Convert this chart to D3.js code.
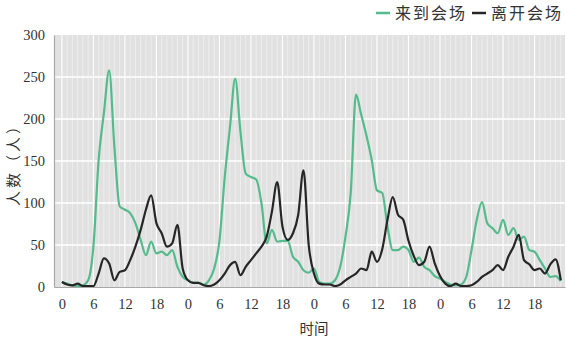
<!DOCTYPE html>
<html>
<head>
<meta charset="utf-8">
<script src="https://cdn.jsdelivr.net/npm/d3@7"></script>
<style>
  body { margin: 0; background: #fff; }
  svg text { font-family: "Liberation Serif", serif; }
</style>
</head>
<body>
<div id="grafica"></div>
<script>
// datos: una medida por hora, 4 dias
const arrive = [
  6, 4, 2, 1, 2, 8, 48, 151, 207, 258, 167, 96, 92, 88, 76, 56, 38, 54, 40, 42, 38, 44, 24, 12,
  8, 5, 5, 3, 8, 22, 55, 130, 190, 248, 185, 135, 131, 128, 100, 52, 68, 54, 55, 55, 36, 30, 20, 17,
  22, 6, 4, 4, 8, 24, 60, 112, 229, 205, 180, 151, 115, 112, 72, 44, 44, 48, 44, 30, 35, 24, 20, 13,
  10, 6, 3, 2, 3, 12, 44, 80, 101, 76, 70, 64, 80, 62, 70, 56, 60, 44, 42, 32, 22, 12, 13, 7
]
const leave = [
  6, 3, 2, 4, 1, 1, 1, 16, 34, 28, 8, 18, 20, 32, 48, 68, 92, 109, 76, 64, 48, 52, 74, 22,
  8, 5, 5, 2, 1, 3, 8, 16, 26, 30, 14, 24, 32, 40, 48, 60, 90, 125, 72, 56, 64, 86, 139, 50,
  16, 4, 3, 3, 1, 3, 8, 12, 16, 22, 20, 42, 30, 45, 80, 107, 86, 80, 55, 37, 26, 30, 48, 28,
  13, 4, 1, 4, 1, 1, 2, 6, 12, 16, 20, 26, 20, 36, 48, 62, 32, 27, 20, 22, 16, 27, 33, 8
]
const hours = d3.range(arrive.length)
const tickHours = [0, 6, 12, 18, 24, 30, 36, 42, 48, 54, 60, 66, 72, 78, 84, 90]
const tickLabels = ["0", "6", "12", "18", "0", "6", "12", "18", "0", "6", "12", "18", "0", "6", "12", "18"]
const yTicks = [0, 50, 100, 150, 200, 250, 300]
const seriesNames = ["来到会场", "离开会场"]
const colors = ["#55bb8c", "#262626"]

const svgWidth = 566
const svgHeight = 343
const margin = { top: 35, right: 1, bottom: 56, left: 54 }
const chartWidth = svgWidth - margin.left - margin.right
const chartHeight = svgHeight - margin.top - margin.bottom

const scaleX = d3.scaleLinear()
    .domain([-1.5, 95.8])
    .range([0, chartWidth])

const scaleY = d3.scaleLinear()
    .domain([0, 300])
    .range([chartHeight, 0])

const svg = d3.select('#grafica')
    .append('svg')
    .attr('width', svgWidth)
    .attr('height', svgHeight)

const g = svg.append('g')
    .attr('transform', `translate(${margin.left},${margin.top})`)

// fondo del panel
g.append('rect')
    .attr('width', chartWidth)
    .attr('height', chartHeight)
    .style('fill', '#e1e1e1')

// rejilla vertical (cada hora) y horizontal
g.selectAll('.vgrid')
    .data(hours)
    .enter()
    .append('line')
    .attr('class', 'vgrid')
    .attr('x1', d => scaleX(d))
    .attr('x2', d => scaleX(d))
    .attr('y1', 0)
    .attr('y2', chartHeight)
    .style('stroke', '#fff')
    .style('stroke-opacity', d => d % 6 === 0 ? 0.95 : 0.55)
    .style('stroke-width', d => d % 6 === 0 ? 1.2 : 0.8)

g.selectAll('.hgrid')
    .data(yTicks.slice(1, -1))
    .enter()
    .append('line')
    .attr('class', 'hgrid')
    .attr('x1', 0)
    .attr('x2', chartWidth)
    .attr('y1', d => scaleY(d))
    .attr('y2', d => scaleY(d))
    .style('stroke', '#fff')
    .style('stroke-width', 1.3)

// lineas
const line = values => d3.line()
    .x((d, i) => scaleX(hours[i]))
    .y(d => scaleY(d))
    .curve(d3.curveMonotoneX)(values)

;[arrive, leave].forEach((values, i) => {
    g.append('path')
        .attr('d', line(values))
        .style('fill', 'none')
        .style('stroke', colors[i])
        .style('stroke-width', 2.2)
        .style('stroke-linejoin', 'round')
})

// ejes
const axisX = d3.axisBottom(scaleX)
    .tickValues(tickHours)
    .tickFormat((d, i) => tickLabels[i])
    .tickSize(0)
    .tickPadding(12)

const axisY = d3.axisLeft(scaleY)
    .tickValues(yTicks)
    .tickSize(0)
    .tickPadding(9)

const gx = g.append('g')
    .attr('transform', `translate(0,${chartHeight})`)
    .call(axisX)
const gy = g.append('g')
    .call(axisY)

;[gx, gy].forEach(ax => {
    ax.select('.domain').style('stroke', '#a8a8a8').style('stroke-width', 1.2)
    ax.selectAll('text')
        .style('font-family', '"Liberation Serif", serif')
        .style('font-size', '14.5px')
        .style('fill', '#333')
})

// titulos de ejes
svg.append('text')
    .attr('x', margin.left + scaleX(48))
    .attr('y', 334)
    .attr('text-anchor', 'middle')
    .style('font-family', '"Noto Sans CJK SC", sans-serif')
    .style('font-size', '14.5px')
    .style('fill', '#333')
    .text('时间')

svg.append('text')
    .attr('transform', `translate(19,${margin.top + chartHeight / 2}) rotate(-90)`)
    .attr('text-anchor', 'middle')
    .style('font-family', '"Noto Sans CJK SC", sans-serif')
    .style('font-size', '15px')
    .style('letter-spacing', '3px')
    .style('fill', '#333')
    .text('人数（人）')

// leyenda
const legendX = [376, 472]
seriesNames.forEach((name, i) => {
    const lg = svg.append('g').attr('transform', `translate(${legendX[i]},13)`)
    lg.append('line')
        .attr('x1', 0).attr('x2', 14)
        .attr('y1', 0).attr('y2', 0)
        .style('stroke', colors[i])
        .style('stroke-width', 2.5)
    lg.append('text')
        .attr('x', 19)
        .attr('y', 5.5)
        .style('font-family', '"Noto Sans CJK SC", sans-serif')
        .style('font-size', '16px')
        .style('letter-spacing', '2px')
        .style('fill', '#333')
        .text(name)
})
</script>
</body>
</html>
